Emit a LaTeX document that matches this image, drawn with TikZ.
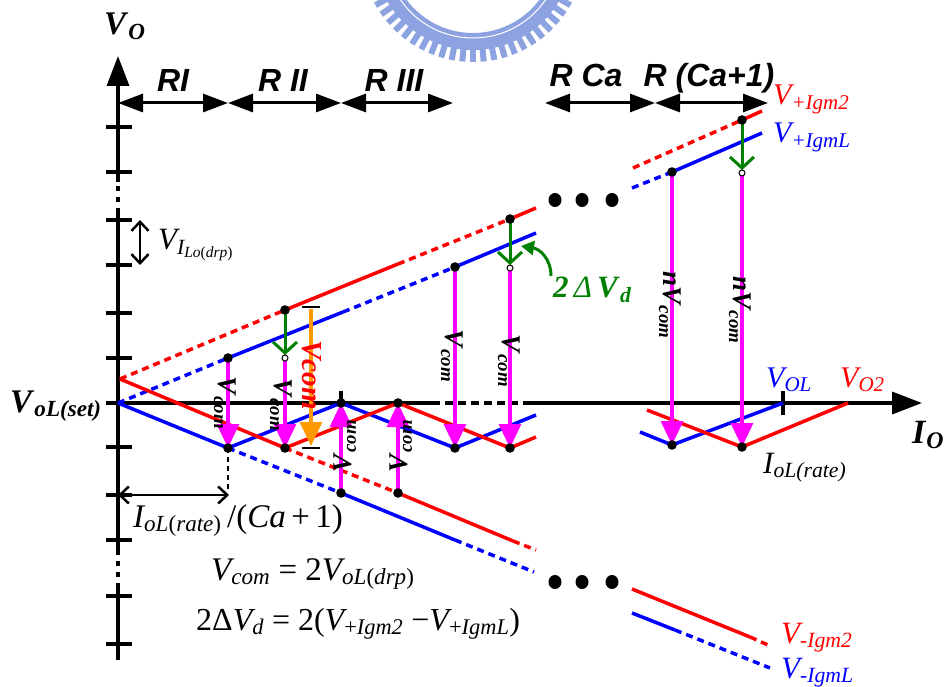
\RequirePackage{fix-cm}
\documentclass[tikz,border=0pt]{standalone}
\usepackage{amsmath}
\usepackage{fontspec}
\setmainfont{Liberation Serif}
\setsansfont{Liberation Sans}
\usetikzlibrary{arrows.meta}
\definecolor{cred}{RGB}{255,0,0}
\definecolor{cblue}{RGB}{0,0,255}
\definecolor{cmag}{RGB}{255,0,255}
\definecolor{cgreen}{RGB}{0,128,0}
\definecolor{corange}{RGB}{255,153,0}
\definecolor{wmark}{RGB}{140,162,225}
\newcommand\myfs[1]{\fontsize{#1}{#1}\selectfont}
\newcommand\isub[2]{$\textit{#1}_{\textit{#2}}$}
\newcommand\bsub[2]{$\textbf{\textit{#1}}_{\textbf{\textit{#2}}}$}
\tikzset{
  myax/.style={line width=3.5pt, black},
  myred/.style={line width=3.5pt, cred},
  myblue/.style={line width=3.5pt, cblue},
  mydsh/.style={dash pattern=on 7pt off 5pt},
  mymag/.style={line width=3.2pt, cmag, -{Triangle[length=24pt,width=22pt]}},
  mygrn/.style={line width=3pt, cgreen, -{Straight Barb[length=11pt,width=24pt]}},
  myreg/.style={line width=3pt, black, {Triangle[length=25pt,width=18pt]}-{Triangle[length=25pt,width=18pt]}},
  mydbl/.style={line width=2.5pt, black, {Straight Barb[length=9pt,width=17pt]}-{Straight Barb[length=9pt,width=17pt]}},
  mylbl/.style={inner sep=0pt, anchor=base west},
  myregl/.style={inner sep=0pt, anchor=base, font=\sffamily\bfseries\itshape\myfs{32}},
  myrot/.style={inner sep=0pt, font=\myfs{27}},
  bdot/.style={fill=black},
  odot/.style={draw=black, line width=1pt, fill=white},
}
\begin{document}
\begin{tikzpicture}[x=1pt,y=-1pt]
\useasboundingbox (0,0) rectangle (946,687);
\fill[white] (0,0) rectangle (946,687);
% watermark
\begin{scope}
\clip (0,0) rectangle (946,687);
\begin{scope}[shift={(473,-50)}]
\fill[wmark, even odd rule] (0,0) circle (100pt) (0,0) circle (83pt);
\draw[white, line width=1pt] (0,0) circle (88pt);
\foreach \a in {24,29.5,...,156} \draw[wmark, line width=6pt] (\a:99) -- (\a:112);
\end{scope}
\end{scope}

% key points
\coordinate (O) at (118,403);
\coordinate (R0) at (120,379);
\coordinate (B1) at (228,358);
\coordinate (R1) at (285,310);
\coordinate (G1) at (285,358);
\coordinate (BL1) at (228,448);
\coordinate (RL1) at (285,448);
\coordinate (BA) at (341,403);
\coordinate (RA) at (398,403);
\coordinate (BD) at (341,493);
\coordinate (RD) at (398,493);
\coordinate (B5) at (455,267);
\coordinate (R5) at (510,219);
\coordinate (G5) at (510,268);
\coordinate (BL5) at (455,448);
\coordinate (RL5) at (510,448);
\coordinate (B7) at (672,172);
\coordinate (R7) at (742,120);
\coordinate (G7) at (742,173);
\coordinate (BL7) at (672,445);
\coordinate (RL7) at (742,447);

% axes
\draw[myax] (106,403) -- (432,403);
\draw[myax, dash pattern=on 8pt off 5pt] (432,403) -- (530,403);
\draw[myax, -{Triangle[length=30pt,width=22pt]}] (530,403) -- (922,403);
\draw[myax] (118,660) -- (118,588);
\draw[myax, dash pattern=on 5pt off 6pt] (118,588) -- (118,553);
\draw[myax] (118,553) -- (118,213);
\draw[myax, dash pattern=on 5pt off 6pt] (118,213) -- (118,182);
\draw[myax, -{Triangle[length=30pt,width=22pt]}] (118,182) -- (118,56);
\foreach \t in {127,172,220,265,313,358,447,495,540,596,644}
  \draw[myax] (106,\t) -- (132,\t);
\draw[myax] (783,391) -- (783,415);
\draw[myax] (341,391) -- (341,408);

% region arrows
\draw[myreg] (118,103) -- (228,103);
\draw[myreg] (228,103) -- (341,103);
\draw[myreg] (341,103) -- (453,103);
\draw[myreg] (545,103) -- (655,103);
\draw[myreg] (655,103) -- (768,103);
\node[myregl] (rI) at (173,92) {RI};
\node[myregl] (rII) at (283,92) {R II};
\node[myregl] (rIII) at (394,92) {R III};
\node[myregl] (rCa) at (586,87) {R Ca};
\node[myregl] (rCa1) at (709,87) {R (Ca+1)};

% upper lines
\draw[myblue, mydsh] (O) -- (B1);
\draw[myblue] (B1) -- (343,312);
\draw[myblue, mydsh] (343,312) -- (B5);
\draw[myblue] (B5) -- (536,233);
\draw[myred, mydsh] (R0) -- (R1);
\draw[myred] (R1) -- (398,264);
\draw[myred, mydsh] (398,264) -- (R5);
\draw[myred] (R5) -- (536,208);
\draw[myred, mydsh] (633,168) -- (R7);
\draw[myred] (R7) -- (762,111);
\draw[myblue, mydsh] (632,188) -- (B7);
\draw[myblue] (B7) -- (762,133);

% V lines
\draw[myblue, line join=miter] (O) -- (BL1) -- (BA) -- (BL5) -- (536,415);
\draw[myred, line join=miter] (R0) -- (RL1) -- (RA) -- (RL5) -- (536,437);
\draw[myblue, line join=miter] (640,432) -- (BL7) -- (783,403);
\draw[myred, line join=miter] (647,410) -- (RL7) -- (848,403);

% lower lines
\draw[myblue, mydsh] (BL1) -- (BD);
\draw[myblue] (BD) -- (455,540);
\draw[myblue, mydsh] (455,540) -- (534,572);
\draw[myred, mydsh] (RL1) -- (RD);
\draw[myred] (RD) -- (513,541);
\draw[myred, mydsh] (513,541) -- (536,550);
\draw[myred] (632,589) -- (750,637);
\draw[myred, mydsh] (750,637) -- (768,645);
\draw[myblue] (632,613) -- (675,630);
\draw[myblue, mydsh] (675,630) -- (770,668);

% big dots
\foreach \xx in {555,582,612} {
  \fill[black] (\xx,200) ellipse (6.5pt and 7pt);
  \fill[black] (\xx,582) ellipse (6.5pt and 7pt);
}

% dashed drop and double arrows
\draw[line width=2.5pt, dash pattern=on 5pt off 4pt] (BL1) -- (228,492);
\draw[mydbl] (118,495) -- (229,495);
\draw[mydbl] (140,220) -- (140,265);

% magenta arrows
\draw[mymag] (B1) -- (BL1);
\draw[mymag] (G1) -- (RL1);
\draw[mymag] (BD) -- (BA);
\draw[mymag] (RD) -- (RA);
\draw[mymag] (B5) -- (BL5);
\draw[mymag] (G5) -- (RL5);
\draw[mymag] (B7) -- (BL7);
\draw[mymag] (G7) -- (RL7);

% green arrows
\draw[mygrn] (R1) -- (285,355);
\draw[mygrn] (R5) -- (510,265);
\draw[mygrn] (R7) -- (742,170);
\draw[line width=3pt, cgreen, -{Triangle[length=13pt,width=14pt]}] (551,276) .. controls (551,259) and (540,249) .. (521,246);

% orange arrow
\draw[line width=3.2pt, corange, -{Triangle[length=24pt,width=22pt]}] (311,309) -- (311,446);
\draw[line width=2.5pt] (302,307) -- (320,307);
\draw[line width=2.5pt] (302,448) -- (320,448);

% dots
\foreach \p in {B1,R1,BL1,RL1,BA,RA,BD,RD,B5,R5,BL5,RL5,B7,R7,BL7,RL7}
  \fill[bdot] (\p) circle (4.8pt);
\foreach \p in {G1,G5,G7}
  \filldraw[odot] (\p) circle (3pt);

% rotated labels
\node[myrot, rotate=-90] (l1) at (225,403) {\bsub{V}{com}};
\node[myrot, rotate=-90] (l2) at (281,405) {\bsub{V}{com}};
\node[myrot, rotate=90] (l3) at (345,446) {\bsub{V}{com}};
\node[myrot, rotate=90] (l4) at (401,446) {\bsub{V}{com}};
\node[myrot, rotate=-90] (l5) at (452,356) {\bsub{V}{com}};
\node[myrot, rotate=-90] (l6) at (509,361) {\bsub{V}{com}};
\node[myrot, rotate=-90] (l7) at (670,305) {\bsub{nV}{com}};
\node[myrot, rotate=-90] (l8) at (740,310) {\bsub{nV}{com}};
\node[inner sep=0pt, rotate=-90, text=cred, font=\bfseries\itshape\myfs{29}] (lo) at (312,375) {Vcom};

% text labels
\node[mylbl, font=\myfs{33}] (vo) at (104,35) {\bsub{V}{O}};
\node[mylbl, font=\myfs{33}] (vset) at (10,412) {\bsub{V}{oL(set)}};
\node[mylbl, font=\myfs{34}] (io) at (912,443) {\bsub{I}{O}};
\node[mylbl, font=\myfs{31}] (vilo) at (158,250) {$\textit{V}_{\textit{I}_{\textit{Lo}\text{(}\textit{drp}\text{)}}}$};
\node[mylbl, font=\myfs{30}, text=cred] (vp2) at (773,105) {\isub{V}{+Igm2}};
\node[mylbl, font=\myfs{30}, text=cblue] (vpl) at (773,143) {\isub{V}{+IgmL}};
\node[mylbl, font=\myfs{30}, text=cblue] (vol) at (766,387) {\isub{V}{OL}};
\node[mylbl, font=\myfs{30}, text=cred] (vo2) at (840,387) {\isub{V}{O2}};
\node[mylbl, font=\myfs{31}] (iol) at (763,473) {\isub{I}{oL(rate)}};
\node[mylbl, font=\myfs{31}, text=cred] (vm2) at (781,643) {\isub{V}{-Igm2}};
\node[mylbl, font=\myfs{31}, text=cblue] (vml) at (781,678) {\isub{V}{-IgmL}};
\node[mylbl, font=\myfs{31}, text=cgreen] (dvd) at (553,298) {{\bfseries\itshape 2}\,{\itshape Δ}\,\bsub{V}{d}};
\node[mylbl, font=\myfs{33}] (eq0) at (133,527) {$\textit{I}_{\textit{oL}\text{(}\textit{rate}\text{)}}\text{\,/(}\textit{Ca}\text{\,+\,1)}$};
\node[mylbl, font=\myfs{33}] (eq1) at (211,580) {$\textit{V}_{\textit{com}}\text{ = 2}\textit{V}_{\textit{oL}\text{(}\textit{drp}\text{)}}$};
\node[mylbl, font=\myfs{32}] (eq2) at (196,630) {$\text{2Δ}\textit{V}_{\textit{d}}\text{ = 2(}\textit{V}_{\text{+}\textit{Igm2}}\text{ −}\textit{V}_{\text{+}\textit{IgmL}}\text{)}$};
\end{tikzpicture}
\end{document}
